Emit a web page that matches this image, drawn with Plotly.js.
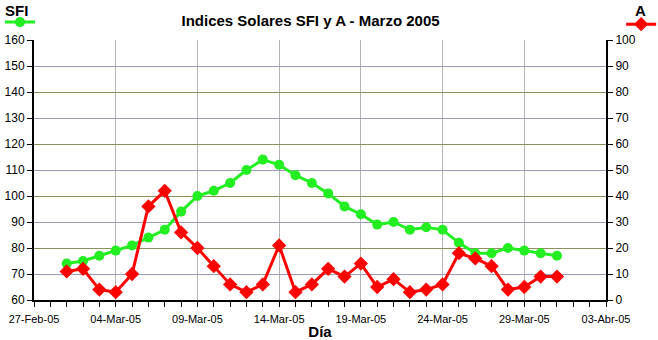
<!DOCTYPE html>
<html><head><meta charset="utf-8">
<script src="https://cdn.plot.ly/plotly-3.0.1.min.js"></script>
<style>body{margin:0;padding:0;background:#fff}#c{width:658px;height:340px}</style>
</head><body><div id="c"></div>
<script>
const dates = ['2005-03-01','2005-03-02','2005-03-03','2005-03-04','2005-03-05','2005-03-06','2005-03-07','2005-03-08','2005-03-09','2005-03-10','2005-03-11','2005-03-12','2005-03-13','2005-03-14','2005-03-15','2005-03-16','2005-03-17','2005-03-18','2005-03-19','2005-03-20','2005-03-21','2005-03-22','2005-03-23','2005-03-24','2005-03-25','2005-03-26','2005-03-27','2005-03-28','2005-03-29','2005-03-30','2005-03-31'];
const sfi = [74,75,77,79,81,84,87,94,100,102,105,110,114,112,108,105,101,96,93,89,90,87,88,87,82,78,78,80,79,78,77];
const aIndex = [11,12,4,3,10,36,42,26,20,13,6,3,6,21,3,6,12,9,14,5,8,3,4,6,18,16,13,4,5,9,9];
const xTickVals = ['2005-02-27','2005-03-04','2005-03-09','2005-03-14','2005-03-19','2005-03-24','2005-03-29','2005-04-03'];
const xTickText = ['27-Feb-05','04-Mar-05','09-Mar-05','14-Mar-05','19-Mar-05','24-Mar-05','29-Mar-05','03-Abr-05'];

const F = 'Liberation Sans, Arial, sans-serif';
const traces = [
  {x: dates, y: sfi, name: ' ', type: 'scatter', mode: 'lines+markers', yaxis: 'y',
   line: {color: '#22ee22', width: 3}, marker: {symbol: 'circle', size: 10, color: '#22ee22'}, legend: 'legend'},
  {x: dates, y: aIndex, name: ' ', type: 'scatter', mode: 'lines+markers', yaxis: 'y2',
   line: {color: '#ff0000', width: 3}, marker: {symbol: 'diamond', size: 11, color: '#ff0000'}, legend: 'legend2'},
  {x: [dates[0]], y: [60], yaxis: 'y3', mode: 'none', showlegend: false, hoverinfo: 'skip'}
];
const layout = {
  width: 658, height: 340,
  margin: {l: 34, r: 52, t: 40, b: 40, autoexpand: false},
  paper_bgcolor: '#fff', plot_bgcolor: '#fff',
  font: {family: F, size: 12, color: '#000'},
  title: {text: '<b>Indices Solares SFI y A - Marzo 2005</b>', x: 0.472, xanchor: 'center', y: 0.94, yanchor: 'middle', font: {family: F, size: 15, color: '#000'}},
  xaxis: {type: 'date', range: ['2005-02-27', '2005-04-03'], tickvals: xTickVals, ticktext: xTickText,
    showgrid: true, gridcolor: '#b4b4b4', gridwidth: 1, showline: true, linecolor: '#000', linewidth: 2,
    ticks: 'outside', ticklen: 5, tickcolor: '#000', tickfont: {family: F, size: 11, color: '#000'},
    ticklabelstandoff: 3,
    minor: {dtick: 86400000, ticks: 'outside', ticklen: 5, tickcolor: '#000', showgrid: false},
    zeroline: false, automargin: false,
    title: {text: '<b>Día</b>', font: {family: F, size: 15, color: '#000'}, standoff: 2}},
  yaxis: {range: [60, 160], dtick: 10, showgrid: true, gridcolor: '#9c9cb4', gridwidth: 1,
    showline: true, linecolor: '#000', linewidth: 2, ticks: 'outside', ticklen: 5, tickcolor: '#000',
    tickfont: {family: F, size: 12, color: '#000'}, zeroline: false, automargin: false},
  yaxis2: {range: [0, 100], dtick: 10, overlaying: 'y', side: 'right', showgrid: false,
    showline: true, linecolor: '#000', linewidth: 2, ticks: 'outside', ticklen: 5, tickcolor: '#000',
    tickfont: {family: F, size: 12, color: '#000'}, zeroline: false, automargin: false},
  yaxis3: {range: [60, 160], dtick: 20, overlaying: 'y', showgrid: true, gridcolor: '#8f8f5c', gridwidth: 1,
    showticklabels: false, ticks: '', showline: false, zeroline: false},
  showlegend: true,
  legend: {xref: 'container', yref: 'container', x: 0, y: 0.935, xanchor: 'left', yanchor: 'middle',
    bgcolor: 'rgba(0,0,0,0)', itemwidth: 30, font: {family: F, size: 2}, tracegroupgap: 0},
  legend2: {xref: 'container', yref: 'container', x: 0.944, y: 0.929, xanchor: 'left', yanchor: 'middle',
    bgcolor: 'rgba(0,0,0,0)', itemwidth: 30, font: {family: F, size: 2}},
  annotations: [
    {text: '<b>SFI</b>', xref: 'paper', yref: 'paper', x: -0.03, y: 1.115, xanchor: 'center', yanchor: 'middle', showarrow: false, font: {family: F, size: 15, color: '#000'}},
    {text: '<b>A</b>', xref: 'paper', yref: 'paper', x: 1.06, y: 1.115, xanchor: 'center', yanchor: 'middle', showarrow: false, font: {family: F, size: 15, color: '#000'}}
  ]
};
Plotly.newPlot('c', traces, layout, {staticPlot: true, displayModeBar: false});
</script></body></html>
